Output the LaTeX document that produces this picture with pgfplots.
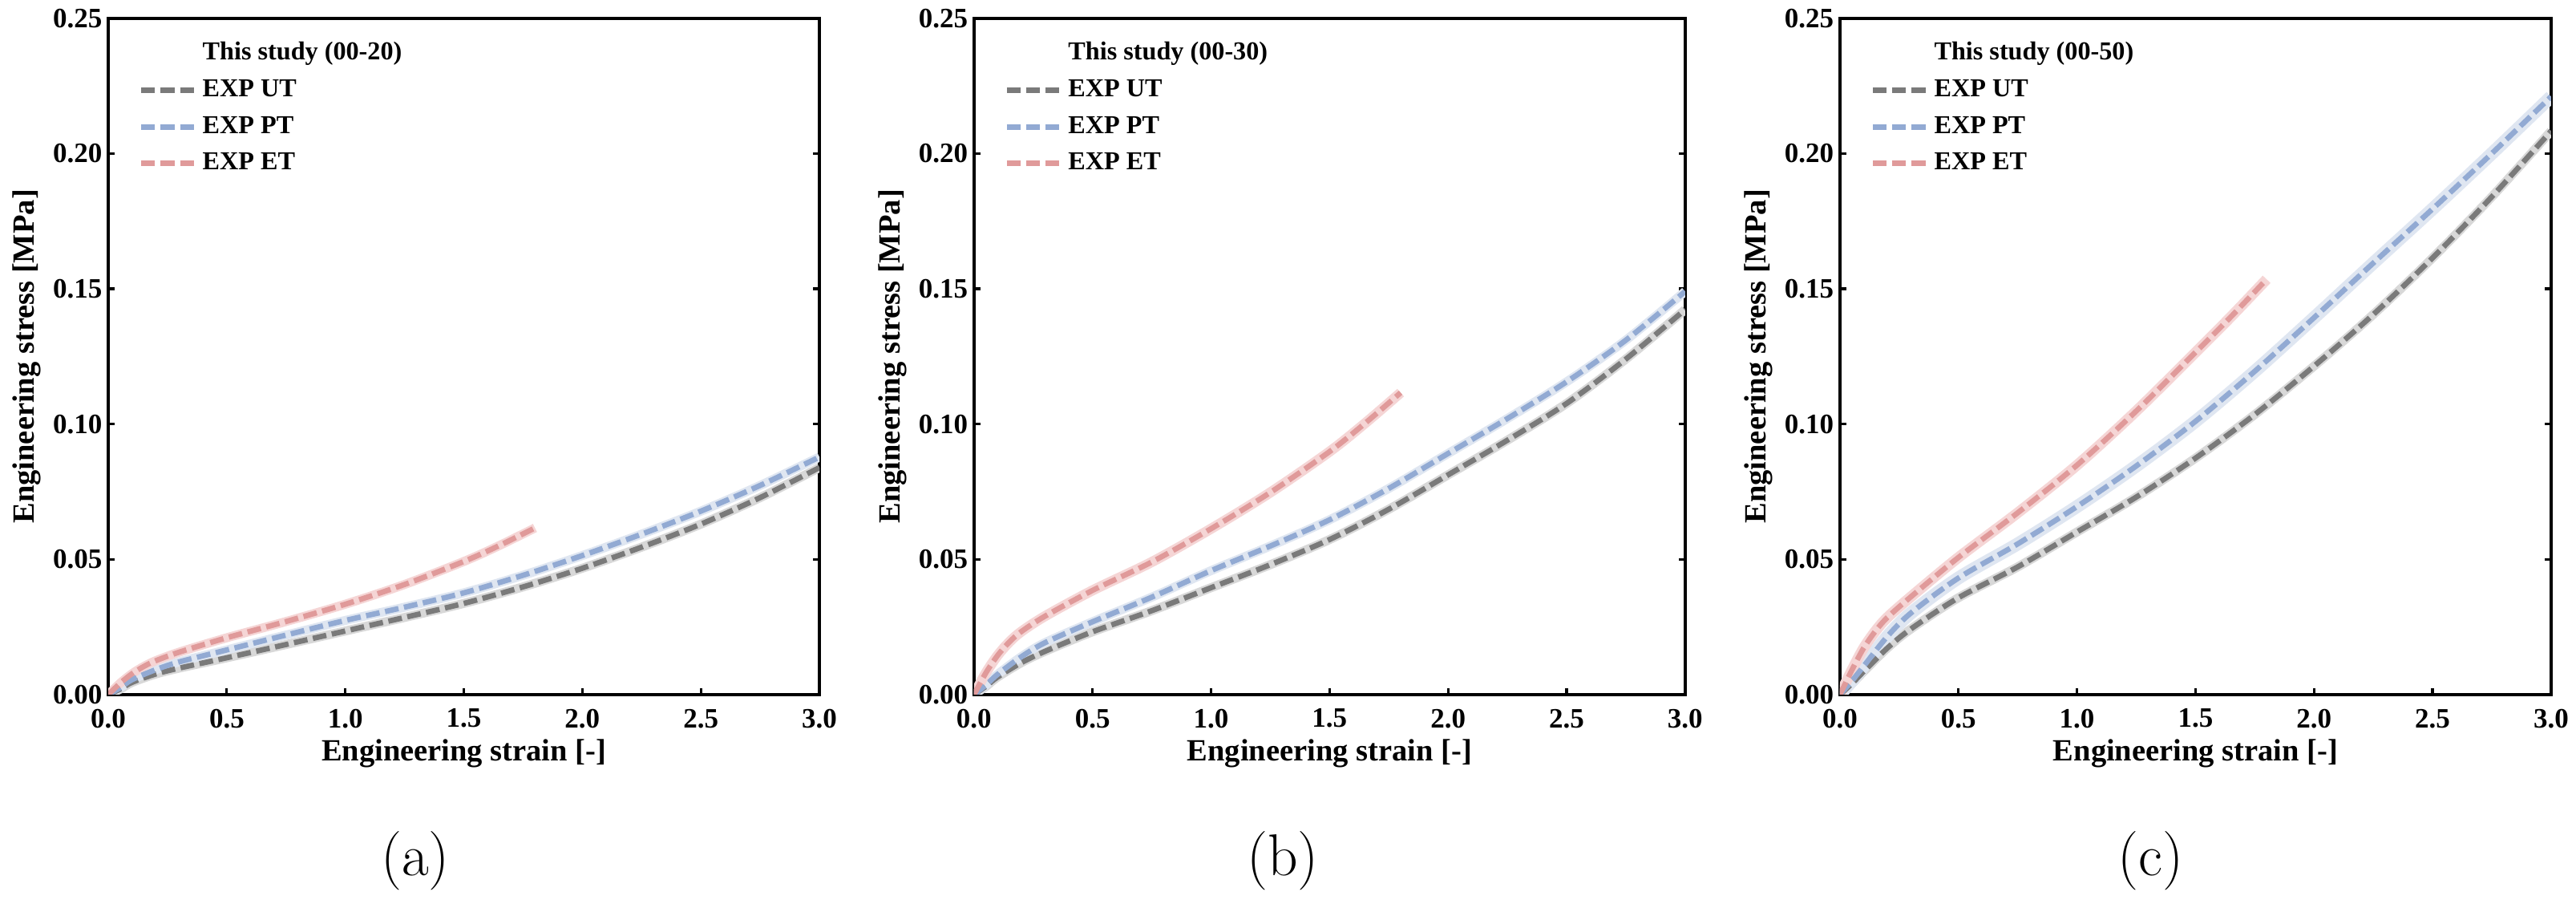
\documentclass[border=0pt]{standalone}
\usepackage{fontspec}
\usepackage{pgfplots}
\usepackage{pgfplotstable}
\pgfplotsset{compat=1.18}
\newfontfamily\tnr{Liberation Serif}
\definecolor{cUT}{HTML}{7A7A7A}
\definecolor{cUTb}{HTML}{D8D8D8}
\definecolor{cPT}{HTML}{92AAD3}
\definecolor{cPTb}{HTML}{DFE6F1}
\definecolor{cET}{HTML}{E09A9A}
\definecolor{cETb}{HTML}{F5D5D5}

\pgfplotstableread{
x ut pt
0 0 0
0.05 0.002 0.0025
0.1 0.0045 0.0055
0.2 0.0076 0.0092
0.3 0.0098 0.0121
0.5 0.0136 0.0165
0.75 0.0185 0.022
1.0 0.0235 0.0274
1.25 0.0285 0.0323
1.5 0.0337 0.0376
1.75 0.0398 0.0441
2.0 0.0467 0.0514
2.25 0.0545 0.0593
2.5 0.063 0.0678
2.75 0.0728 0.0773
3.0 0.0839 0.0878
}\tA
\pgfplotstableread{
x et
0 0
0.05 0.0042
0.1 0.0077
0.15 0.0104
0.2 0.0125
0.3 0.0157
0.5 0.021
0.75 0.027
1.0 0.0334
1.25 0.0407
1.5 0.0492
1.65 0.0551
1.8 0.0616
}\eA
\pgfplotstableread{
x ut pt
0 0 0
0.05 0.003 0.0035
0.1 0.0065 0.0075
0.2 0.0118 0.014
0.3 0.016 0.0192
0.5 0.0232 0.0269
0.75 0.031 0.036
1.0 0.0395 0.0458
1.25 0.048 0.0549
1.5 0.0573 0.0646
1.75 0.0685 0.0762
2.0 0.0812 0.0891
2.25 0.094 0.102
2.5 0.1076 0.1156
2.75 0.124 0.131
3.0 0.1423 0.149
}\tB
\pgfplotstableread{
x et
0 0
0.05 0.008
0.1 0.0145
0.15 0.0195
0.2 0.0233
0.3 0.029
0.5 0.0385
0.75 0.049
1.0 0.0613
1.25 0.0747
1.5 0.0898
1.65 0.1003
1.8 0.1116
}\eB
\pgfplotstableread{
x ut pt
0 0 0
0.05 0.004 0.005
0.1 0.0085 0.0105
0.2 0.0172 0.0215
0.3 0.0243 0.0302
0.5 0.0358 0.0431
0.75 0.0472 0.0557
1.0 0.0601 0.0695
1.25 0.073 0.0845
1.5 0.0874 0.101
1.75 0.1035 0.1195
2.0 0.1214 0.1393
2.25 0.1405 0.1595
2.5 0.1614 0.1795
2.75 0.184 0.2
3.0 0.2083 0.221
}\tC
\pgfplotstableread{
x et
0 0
0.05 0.009
0.1 0.0172
0.15 0.0235
0.2 0.0285
0.3 0.0362
0.5 0.0507
0.75 0.0672
1.0 0.0848
1.25 0.1048
1.5 0.1265
1.65 0.1397
1.8 0.1535
}\eC

\pgfplotsset{
  panel/.style={
    scale only axis, width=253.4pt, height=240.9pt, anchor=south west,
    xmin=0, xmax=3, ymin=0, ymax=0.25,
    xtick={0,0.5,1,1.5,2,2.5,3}, ytick={0,0.05,0.1,0.15,0.2,0.25},
    tick align=inside, xtick pos=bottom, ytick pos=both,
    major tick length=2.3pt,
    every tick/.style={black, line width=0.9pt},
    axis line style={line width=1.1pt},
    /pgf/number format/assume math mode=true,
    tick label style={font=\tnr\bfseries\fontsize{10}{12}\selectfont},
    x tick label style={/pgf/number format/fixed, /pgf/number format/fixed zerofill, /pgf/number format/precision=1, yshift=-1.6pt},
    y tick label style={/pgf/number format/fixed, /pgf/number format/fixed zerofill, /pgf/number format/precision=2, xshift=1.3pt},
    scaled ticks=false,
    xlabel={Engineering strain [-]}, ylabel={Engineering stress [MPa]},
    label style={font=\tnr\bfseries\fontsize{11}{13}\selectfont},
    xlabel style={at={(axis description cs:0.5,-0.0868)}, anchor=center},
    ylabel style={at={(axis description cs:-0.1145,0.5)}, anchor=center},
    legend style={at={(axis description cs:0.03,0.982)}, anchor=north west, draw=none, fill=none,
      font=\tnr\bfseries\fontsize{9.2}{11}\selectfont, row sep=1.5pt},
    legend cell align=left,
    legend image code/.code={\draw[##1] (0pt,0pt) -- (18.9pt,0pt);},
  },
  band/.style={line width=3.2pt, forget plot, smooth},
  main/.style={line width=1.9pt, dash pattern=on 4.9pt off 2pt, smooth},
}

\begin{document}
\begin{tikzpicture}
\path[use as bounding box] (0,0) rectangle (918pt,320.3pt);

\begin{axis}[panel, at={(38.6pt,72.9pt)}]
\addlegendimage{empty legend}\addlegendentry{This study (00-20)}
\addplot[band, cUTb] table[x=x,y=ut]{\tA};
\addplot[band, cPTb] table[x=x,y=pt]{\tA};
\addplot[band, cETb] table[x=x,y=et]{\eA};
\addplot[main, cUT] table[x=x,y=ut]{\tA}; \addlegendentry{EXP UT}
\addplot[main, cPT] table[x=x,y=pt]{\tA}; \addlegendentry{EXP PT}
\addplot[main, cET] table[x=x,y=et]{\eA}; \addlegendentry{EXP ET}
\end{axis}

\begin{axis}[panel, at={(347.1pt,72.9pt)}]
\addlegendimage{empty legend}\addlegendentry{This study (00-30)}
\addplot[band, cUTb] table[x=x,y=ut]{\tB};
\addplot[band, cPTb] table[x=x,y=pt]{\tB};
\addplot[band, cETb, line width=3.6pt] table[x=x,y=et]{\eB};
\addplot[main, cUT] table[x=x,y=ut]{\tB}; \addlegendentry{EXP UT}
\addplot[main, cPT] table[x=x,y=pt]{\tB}; \addlegendentry{EXP PT}
\addplot[main, cET] table[x=x,y=et]{\eB}; \addlegendentry{EXP ET}
\end{axis}

\begin{axis}[panel, at={(655.7pt,72.9pt)}]
\addlegendimage{empty legend}\addlegendentry{This study (00-50)}
\addplot[band, cUTb] table[x=x,y=ut]{\tC};
\addplot[band, cPTb, line width=4.6pt] table[x=x,y=pt]{\tC};
\addplot[band, cETb, line width=3.8pt] table[x=x,y=et]{\eC};
\addplot[main, cUT] table[x=x,y=ut]{\tC}; \addlegendentry{EXP UT}
\addplot[main, cPT] table[x=x,y=pt]{\tC}; \addlegendentry{EXP PT}
\addplot[main, cET] table[x=x,y=et]{\eC}; \addlegendentry{EXP ET}
\end{axis}

\node[font=\rmfamily\fontsize{21}{25}\selectfont] at (148pt,13.7pt) {(a)};
\node[font=\rmfamily\fontsize{21}{25}\selectfont] at (457.1pt,13.7pt) {(b)};
\node[font=\rmfamily\fontsize{21}{25}\selectfont] at (766.3pt,13.7pt) {(c)};
\end{tikzpicture}
\end{document}
